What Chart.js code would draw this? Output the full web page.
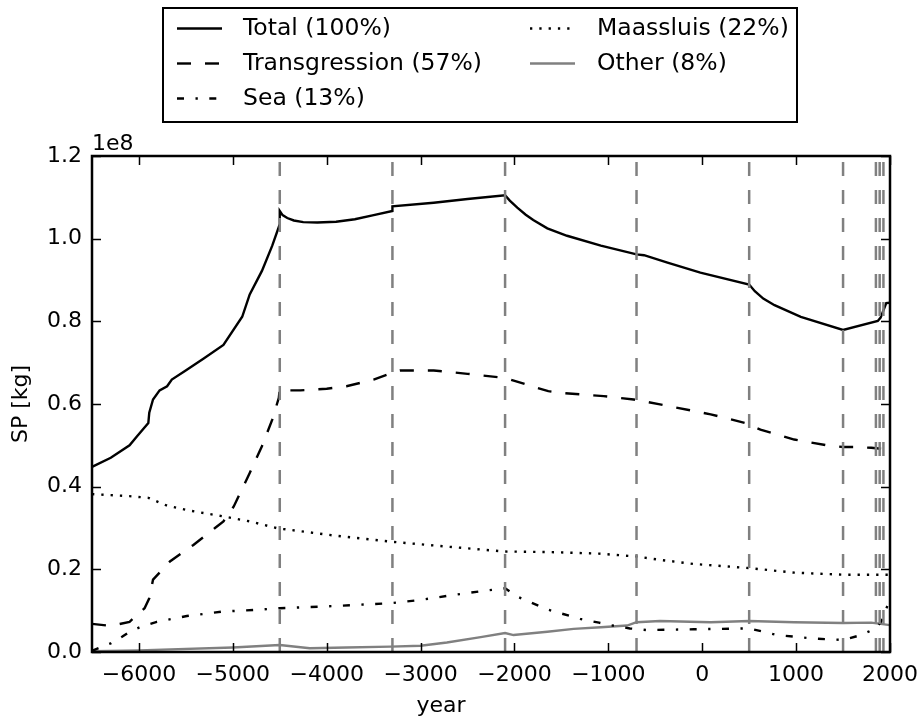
<!DOCTYPE html>
<html>
<head>
<meta charset="utf-8">
<title>SP by source</title>
<script src="https://cdn.jsdelivr.net/npm/chart.js@4.4.1/dist/chart.umd.min.js"></script>
<style>
  html, body { margin: 0; padding: 0; background: #fff; }
  #wrap { width: 920px; height: 719px; }
</style>
</head>
<body>
<div id="wrap"><canvas id="spChart" width="920" height="719"></canvas></div>
<script>
// SP values are in units of 1e8 kg
const totalYears = [-6500, -6300, -6100, -6020, -5900, -5890, -5850, -5780, -5700, -5650, -5510, -5310, -5100, -4900, -4820, -4690, -4580, -4500, -4500, -4470, -4420, -4350, -4250, -4100, -3900, -3700, -3500, -3300, -3300, -2860, -2500, -2100, -2050, -1970, -1880, -1800, -1650, -1440, -1080, -700, -620, -370, -20, 500, 560, 650, 770, 1050, 1500, 1870, 1900, 1960, 2000];
const totalSP = [0.448, 0.470, 0.500, 0.522, 0.554, 0.579, 0.611, 0.633, 0.643, 0.659, 0.680, 0.710, 0.743, 0.811, 0.865, 0.922, 0.983, 1.035, 1.067, 1.057, 1.050, 1.044, 1.040, 1.039, 1.041, 1.047, 1.057, 1.067, 1.078, 1.087, 1.096, 1.105, 1.092, 1.075, 1.058, 1.045, 1.025, 1.007, 0.983, 0.962, 0.960, 0.942, 0.918, 0.889, 0.873, 0.855, 0.839, 0.811, 0.779, 0.801, 0.809, 0.844, 0.845];

const transYears = [-6500, -6300, -6100, -5940, -5890, -5850, -5670, -5420, -5190, -5100, -4990, -4820, -4690, -4580, -4510, -4500, -4420, -4280, -4000, -3790, -3500, -3300, -3220, -2860, -2500, -2100, -1640, -1510, -1050, -730, -450, 90, 460, 620, 980, 1330, 1500, 1620, 1800, 2000];
const transSP = [0.068, 0.063, 0.073, 0.106, 0.130, 0.175, 0.219, 0.259, 0.300, 0.316, 0.352, 0.433, 0.498, 0.562, 0.615, 0.637, 0.633, 0.633, 0.637, 0.643, 0.659, 0.676, 0.681, 0.681, 0.673, 0.663, 0.631, 0.627, 0.619, 0.611, 0.599, 0.575, 0.554, 0.538, 0.514, 0.500, 0.496, 0.496, 0.494, 0.490];

const seaYears = [-6500, -6300, -6180, -6100, -5990, -5810, -5490, -5100, -4740, -4500, -4030, -3320, -3000, -2650, -2290, -2100, -1970, -1650, -1300, -1100, -980, -770, -590, -90, 500, 800, 1160, 1500, 1690, 1850, 1910, 1960, 2000];
const seaSP = [0.003, 0.021, 0.037, 0.049, 0.060, 0.073, 0.087, 0.098, 0.102, 0.106, 0.110, 0.118, 0.126, 0.138, 0.149, 0.154, 0.134, 0.103, 0.080, 0.071, 0.065, 0.057, 0.053, 0.055, 0.057, 0.041, 0.033, 0.029, 0.041, 0.057, 0.075, 0.105, 0.125];

const maasYears = [-6500, -6100, -5900, -5700, -5460, -5100, -4820, -4500, -4440, -3930, -3320, -2720, -2100, -1650, -1100, -700, -450, -90, 500, 980, 1500, 2000];
const maasSP = [0.382, 0.377, 0.373, 0.354, 0.342, 0.328, 0.316, 0.298, 0.297, 0.282, 0.267, 0.255, 0.243, 0.242, 0.238, 0.231, 0.223, 0.213, 0.203, 0.192, 0.187, 0.187];

const otherYears = [-6500, -6000, -5000, -4500, -4180, -3790, -3320, -3000, -2720, -2360, -2100, -2010, -1650, -1370, -1080, -800, -700, -450, 90, 500, 980, 1500, 1800, 2000];
const otherSP = [0.002, 0.004, 0.011, 0.017, 0.009, 0.011, 0.013, 0.015, 0.023, 0.036, 0.046, 0.041, 0.049, 0.056, 0.060, 0.064, 0.072, 0.075, 0.072, 0.075, 0.072, 0.070, 0.071, 0.065];

// years where a new map layer starts
const eraYears = [-4500, -3300, -2100, -700, 500, 1500, 1850, 1890, 1930];

const xTicks = [-6000, -5000, -4000, -3000, -2000, -1000, 0, 1000, 2000];
const yTicks = [0, 0.2, 0.4, 0.6, 0.8, 1.0, 1.2];

const FONT = "'DejaVu Sans', 'Liberation Sans', sans-serif";
Chart.defaults.font.family = FONT;
Chart.defaults.font.size = 22;
Chart.defaults.color = '#000';

function toPoints(xs, ys) {
    return xs.map((x, i) => ({ x: x, y: ys[i] }));
}

const series = [
    { label: 'Total (100%)', xs: totalYears, ys: totalSP, color: '#000', dash: [] },
    { label: 'Transgression (57%)', xs: transYears, ys: transSP, color: '#000', dash: [14, 14] },
    { label: 'Sea (13%)', xs: seaYears, ys: seaSP, color: '#000', dash: [7, 11.5, 2.3, 11.5] },
    { label: 'Maassluis (22%)', xs: maasYears, ys: maasSP, color: '#000', dash: [2.3, 7] },
    { label: 'Other (8%)', xs: otherYears, ys: otherSP, color: '#808080', dash: [] }
];

const LINE_W = 2.4;

const datasets = series.map(s => ({
    label: s.label,
    data: toPoints(s.xs, s.ys),
    borderColor: s.color,
    borderDash: s.dash,
    borderWidth: LINE_W,
    borderCapStyle: 'butt',
    pointRadius: 0,
    tension: 0,
    order: 1
}));

// vertical dashed markers, drawn over the curves
eraYears.forEach(yr => {
    datasets.push({
        label: 'era ' + yr,
        data: [{ x: yr, y: 0 }, { x: yr, y: 1.2 }],
        borderColor: '#808080',
        borderDash: [14, 14],
        borderWidth: 2.5,
        borderCapStyle: 'butt',
        pointRadius: 0,
        order: 0
    });
});

// frame, inward tick marks, offset text, axis label and the legend box
const frameAndLegend = {
    id: 'frameAndLegend',
    afterDraw(chart) {
        const { ctx, chartArea: a, scales } = chart;
        const x = scales.x, y = scales.y;
        ctx.save();

        ctx.strokeStyle = '#000';
        ctx.lineWidth = 1.5;
        ctx.beginPath();
        xTicks.forEach(v => {
            const px = Math.round(x.getPixelForValue(v)) + 0.5;
            ctx.moveTo(px, a.bottom); ctx.lineTo(px, a.bottom - 9);
            ctx.moveTo(px, a.top); ctx.lineTo(px, a.top + 9);
        });
        yTicks.forEach(v => {
            const py = Math.round(y.getPixelForValue(v)) + 0.5;
            ctx.moveTo(a.left, py); ctx.lineTo(a.left + 9, py);
            ctx.moveTo(a.right, py); ctx.lineTo(a.right - 9, py);
        });
        ctx.stroke();

        ctx.lineWidth = 2.5;
        ctx.strokeRect(a.left, a.top, a.right - a.left, a.bottom - a.top);

        ctx.fillStyle = '#000';
        ctx.font = '22px ' + FONT;
        ctx.textAlign = 'left';
        ctx.textBaseline = 'alphabetic';
        ctx.fillText('1e8', a.left, a.top - 6);

        ctx.textAlign = 'center';
        ctx.fillText('year', 441, 712);

        // legend
        const box = { left: 163, top: 8, width: 634, height: 114 };
        ctx.fillStyle = '#fff';
        ctx.fillRect(box.left, box.top, box.width, box.height);
        ctx.lineWidth = 2;
        ctx.strokeStyle = '#000';
        ctx.strokeRect(box.left, box.top, box.width, box.height);

        ctx.font = '23.5px ' + FONT;
        ctx.textAlign = 'left';
        const cols = [{ line: 177, text: 243 }, { line: 530, text: 597 }];
        const rows = [28, 63, 98];
        const slots = [[0, 0], [0, 1], [0, 2], [1, 0], [1, 1]];
        series.forEach((s, i) => {
            const col = cols[slots[i][0]];
            const ry = rows[slots[i][1]] + 0.5;
            ctx.beginPath();
            ctx.setLineDash(s.dash);
            ctx.lineCap = 'butt';
            ctx.lineWidth = LINE_W;
            ctx.strokeStyle = s.color;
            ctx.moveTo(col.line, ry);
            ctx.lineTo(col.line + 45, ry);
            ctx.stroke();
            ctx.setLineDash([]);
            ctx.fillStyle = '#000';
            ctx.textBaseline = 'middle';
            ctx.fillText(s.label, col.text, ry);
        });
        ctx.restore();
    }
};

const ctx = document.getElementById('spChart');
new Chart(ctx, {
    type: 'line',
    data: { datasets: datasets },
    options: {
        responsive: false,
        animation: false,
        devicePixelRatio: 1,
        layout: { padding: { left: 0, top: 156, right: 30, bottom: 0 } },
        plugins: {
            legend: { display: false },
            tooltip: { enabled: false }
        },
        scales: {
            x: {
                type: 'linear',
                min: -6500,
                max: 2000,
                grid: { display: false, drawTicks: false },
                border: { display: false },
                afterFit: scale => {
                    scale.height = 67;
                    // the last tick label may overhang the plot edge
                    scale.paddingLeft = 0;
                    scale.paddingRight = 0;
                },
                afterBuildTicks: scale => { scale.ticks = xTicks.map(v => ({ value: v })); },
                ticks: {
                    padding: 10,
                    maxRotation: 0,
                    autoSkip: false,
                    // matplotlib style minus sign
                    callback: v => (v < 0 ? '\u2212' + Math.abs(v) : String(v))
                }
            },
            y: {
                type: 'linear',
                min: 0,
                max: 1.2,
                grid: { display: false, drawTicks: false },
                border: { display: false },
                afterFit: scale => { scale.width = 92; },
                afterBuildTicks: scale => { scale.ticks = yTicks.map(v => ({ value: v })); },
                ticks: {
                    padding: 10,
                    autoSkip: false,
                    callback: v => Number(v).toFixed(1)
                },
                title: { display: true, text: 'SP [kg]', padding: { top: 8, bottom: 0 } }
            }
        }
    },
    plugins: [frameAndLegend]
});
</script>
</body>
</html>
